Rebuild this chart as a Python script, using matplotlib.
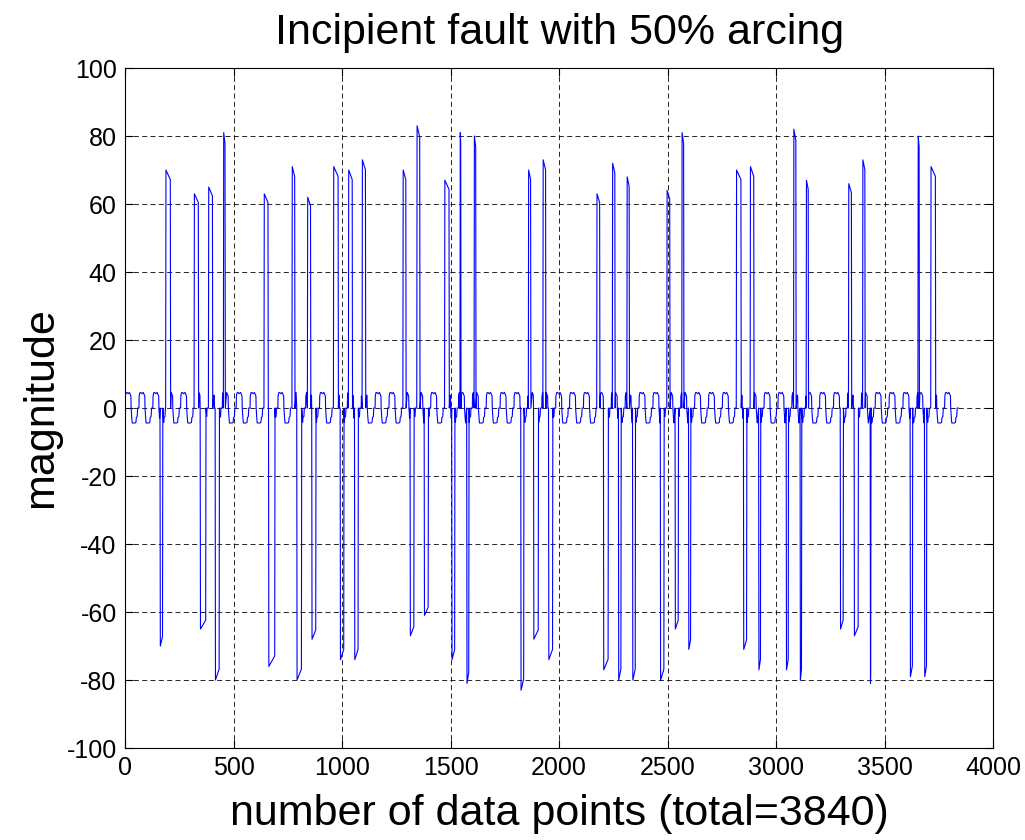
import matplotlib
matplotlib.use("Agg")
import matplotlib.pyplot as plt
import numpy as np

plt.rcParams['font.family'] = ['Liberation Sans', 'DejaVu Sans']
plt.rcParams['axes.unicode_minus'] = False

# total samples and samples per power cycle
n_points = 3840
period = 64

# one cycle of the background waveform (phase in samples, value)
cycle_phase = [0, 1, 4, 8, 14, 20, 25, 27, 28, 31, 33, 46, 50, 52, 56, 58, 63]
cycle_value = [0, 3.5, 4.5, 4.6, 4.2, 4.6, 3.8, 3.5, 0, -3, -4.4, -4.4, -4.2, -2.8, -2.5, 0, 0]

# arcing spikes: start sample, end sample, peak value
spike_start = [161, 187, 318, 346, 384, 415, 453,
               640, 661, 769, 791, 840, 860, 960, 991, 1029, 1057, 1092,
               1280, 1313, 1344, 1378, 1472, 1505, 1543, 1574, 1608,
               1823, 1858, 1882, 1925, 1951,
               2173, 2204, 2245, 2273, 2312, 2338,
               2466, 2496, 2534, 2565, 2596,
               2816, 2849, 2880, 2919,
               3046, 3080, 3110, 3138,
               3295, 3333, 3359, 3398, 3433,
               3617, 3653, 3683, 3712]
spike_end = [174, 210, 339, 373, 404, 435, 462,
             660, 691, 783, 814, 856, 880, 983, 1009, 1048, 1075, 1109,
             1295, 1332, 1359, 1398, 1494, 1520, 1548, 1585, 1617,
             1838, 1870, 1905, 1939, 1971,
             2188, 2227, 2258, 2286, 2324, 2352,
             2484, 2511, 2550, 2575, 2607,
             2839, 2865, 2898, 2929,
             3057, 3092, 3118, 3149,
             3310, 3348, 3379, 3410, 3437,
             3629, 3660, 3694, 3735]
spike_peak = [-70, 70, 63, -65, 65, -80, 81,
              63, -76, 71, -80, 62, -68, 71, -74, 70, -74, 73,
              70, -67, 83, -61, 67, -74, 81, -81, 80,
              -83, 70, -68, 73, -74,
              63, -77, 72, -80, 68, -80,
              -80, 64, -65, 81, -71,
              70, -71, 71, -77,
              -77, 82, -80, 67,
              -65, 66, -67, 73, -81,
              -79, 80, -79, 71]

# background vertices over all cycles
bx, by = [], []
for k in range(n_points // period):
    for p, v in zip(cycle_phase, cycle_value):
        bx.append(k * period + p)
        by.append(v)
bx = np.array(bx, dtype=float)
by = np.array(by, dtype=float)

keep = np.ones(len(bx), dtype=bool)
sx, sy = [], []
for s, e, pk in zip(spike_start, spike_end, spike_peak):
    keep &= ~((bx >= s) & (bx <= e))
    sx += [s, s + 1.5, e - 1.5, e]
    sy += [0, pk, pk * 0.96, 0]

x = np.concatenate([bx[keep], sx])
y = np.concatenate([by[keep], sy])
order = np.argsort(x, kind='stable')
x, y = x[order], y[order]

fig = plt.figure(figsize=(10.25, 8.4), dpi=100)
ax = fig.add_axes([0.122, 0.1095, 0.847, 0.8095])
ax.plot(x, y, color='#0000ff', linewidth=0.8)

ax.set_xlim(0, 4000)
ax.set_ylim(-100, 100)
ax.set_xticks(np.arange(0, 4001, 500))
ax.set_yticks(np.arange(-100, 101, 20))
ax.grid(True, color='black', linestyle=(0, (6, 4)), linewidth=0.6)
ax.tick_params(direction='in', top=True, right=True, labelsize=18, length=6, pad=6)
for sp in ax.spines.values():
    sp.set_linewidth(0.8)

ax.set_title("Incipient fault with 50% arcing", fontsize=31, pad=17)
ax.set_xlabel("number of data points (total=3840)", fontsize=31, labelpad=10)
ax.set_ylabel("magnitude", fontsize=31, labelpad=4)

fig.savefig("out.png", dpi=100)
